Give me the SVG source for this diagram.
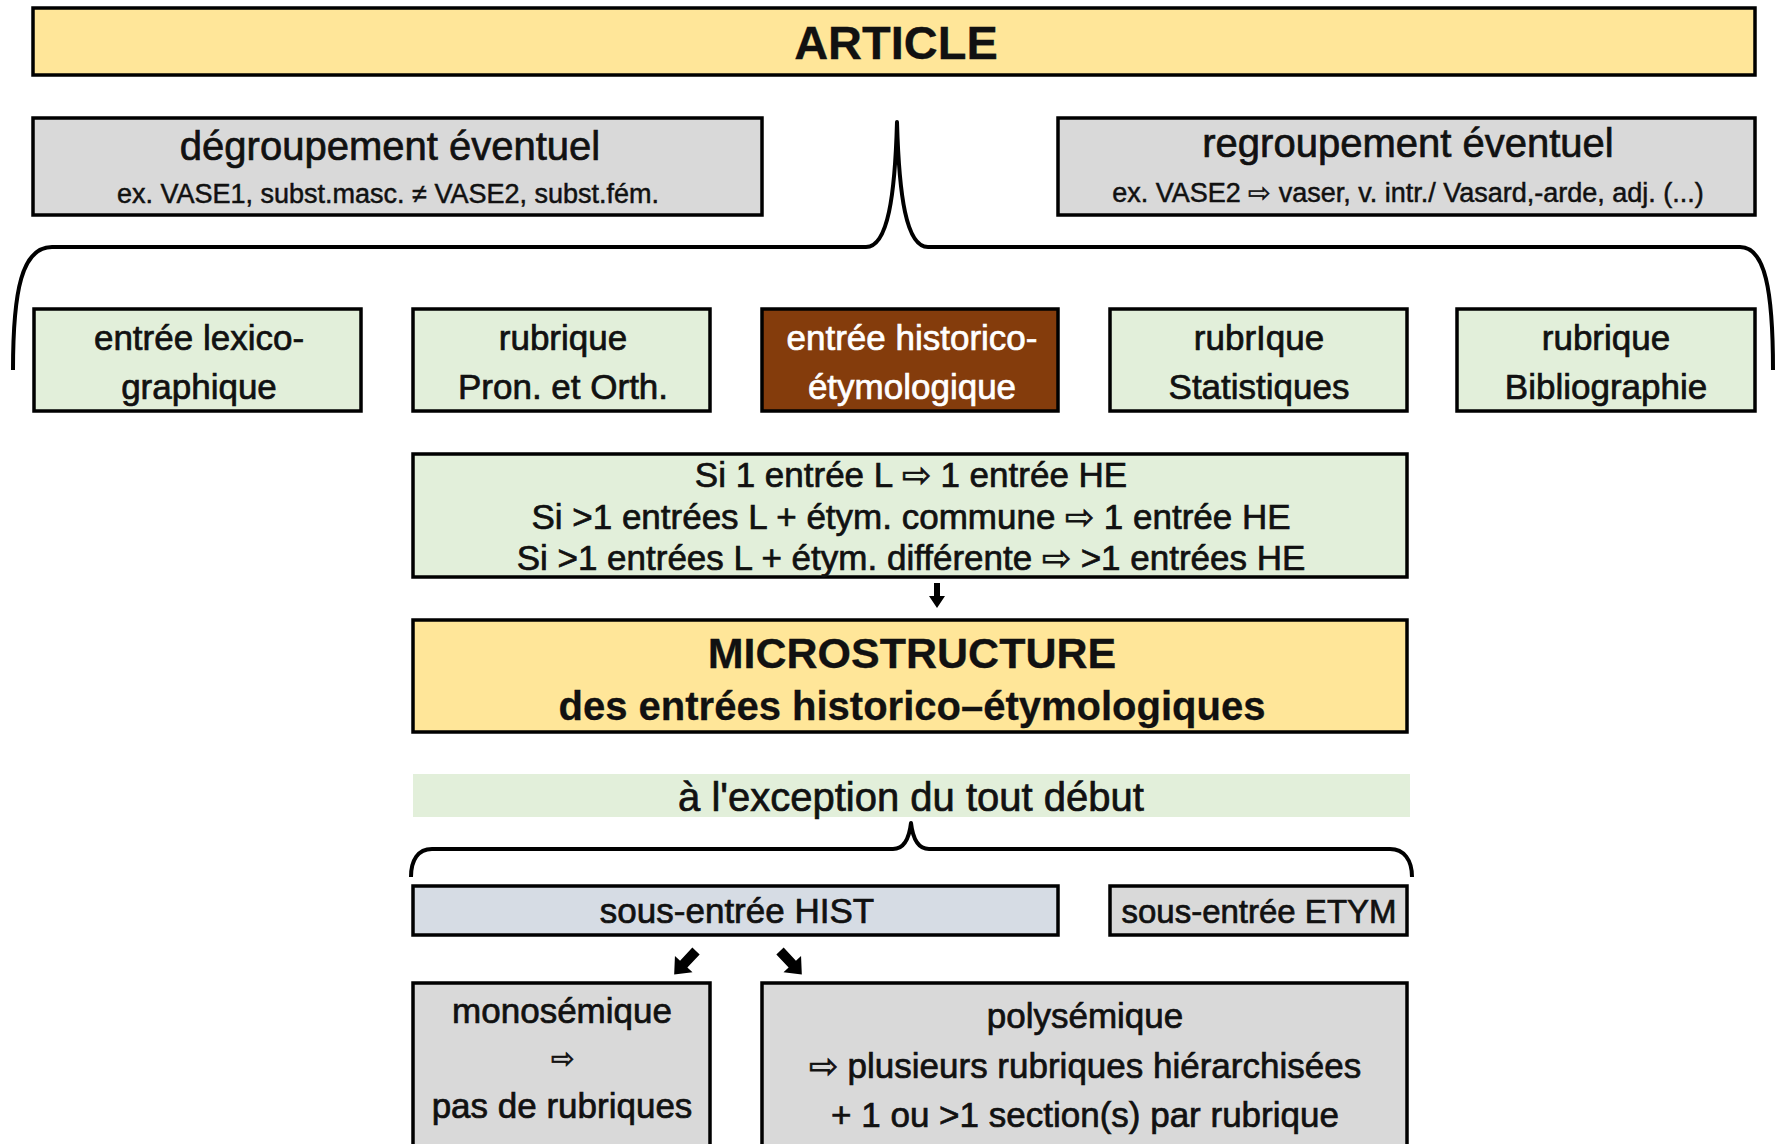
<svg xmlns="http://www.w3.org/2000/svg" width="1775" height="1144" viewBox="0 0 1775 1144">
<style>
.box{stroke:#000;stroke-width:3.5}
.yel{fill:#FFE699}.gry{fill:#D9D9D9}.grn{fill:#E2EFDA}.brn{fill:#843C0C}.blu{fill:#D6DCE4}
text{font-family:"Liberation Sans",Arial,sans-serif;text-anchor:middle;fill:#111;stroke:#111;stroke-width:0.7px}
.t35{font-size:35px}.t40{font-size:40px}.t27{font-size:27px;stroke-width:0.5px}
.b{font-weight:bold;stroke-width:0.3px}.w{fill:#fff;stroke:#fff}
.br{fill:none;stroke:#000;stroke-width:4;stroke-linejoin:round}
</style>
<defs>
<polygon id="arrD" points="0,-3,13,-3,13,-8,25,0,13,8,13,3,0,3" fill="#000"/>
<polygon id="arrG" points="0,-5,18,-5,18,-12,32,0,18,12,18,5,0,5" fill="#000"/>
</defs>
<rect width="1775" height="1144" fill="#fff"/>

<g id="article"><rect class="box yel" x="33" y="8" width="1722" height="67"/><text class="b" x="896" y="59" style="font-size:47px">ARTICLE</text></g>

<g id="degroupement"><rect class="box gry" x="33" y="118" width="729" height="97"/>
<text class="t40" x="390" y="160">dégroupement éventuel</text>
<text class="t27" x="388" y="203">ex. VASE1, subst.masc. ≠ VASE2, subst.fém.</text></g>

<g id="regroupement"><rect class="box gry" x="1058" y="118" width="697" height="97"/>
<text class="t40" x="1408" y="157">regroupement éventuel</text>
<text class="t27" x="1408" y="202">ex. VASE2 ⇨ vaser, v. intr./ Vasard,-arde, adj. (...)</text></g>

<g id="lexico"><rect class="box grn" x="34" y="309" width="327" height="102"/>
<text class="t35" x="199" y="350">entrée lexico-</text><text class="t35" x="199" y="399">graphique</text></g>

<g id="pron"><rect class="box grn" x="413" y="309" width="297" height="102"/>
<text class="t35" x="563" y="350">rubrique</text><text class="t35" x="563" y="399">Pron. et Orth.</text></g>

<g id="historico"><rect class="box brn" x="762" y="309" width="296" height="102"/>
<text class="t35 w" x="912" y="350">entrée historico-</text><text class="t35 w" x="912" y="399">étymologique</text></g>

<g id="stat"><rect class="box grn" x="1110" y="309" width="297" height="102"/>
<text class="t35" x="1259" y="350">rubrIque</text><text class="t35" x="1259" y="399">Statistiques</text></g>

<g id="biblio"><rect class="box grn" x="1457" y="309" width="298" height="102"/>
<text class="t35" x="1606" y="350">rubrique</text><text class="t35" x="1606" y="399">Bibliographie</text></g>

<g id="regles"><rect class="box grn" x="413" y="454" width="994" height="123"/>
<text class="t35" x="911" y="487">Si 1 entrée L ⇨ 1 entrée HE</text>
<text class="t35" x="911" y="529">Si &gt;1 entrées L + étym. commune ⇨ 1 entrée HE</text>
<text class="t35" x="911" y="570">Si &gt;1 entrées L + étym. différente ⇨ &gt;1 entrées HE</text></g>

<g id="microstructure"><rect class="box yel" x="413" y="620" width="994" height="112"/>
<text class="b" x="912" y="668" style="font-size:43px">MICROSTRUCTURE</text>
<text class="b t40" x="912" y="720">des entrées historico–étymologiques</text></g>

<g id="exception"><rect class="grn" x="413" y="774" width="997" height="43"/>
<text class="t40" x="911" y="811">à l'exception du tout début</text></g>

<g id="hist"><rect class="box blu" x="413" y="886" width="645" height="49"/>
<text class="t35" x="737" y="923">sous-entrée HIST</text></g>

<g id="etym"><rect class="box gry" x="1110" y="886" width="297" height="49"/>
<text class="t35" x="1259" y="923" style="font-size:33px">sous-entrée ETYM</text></g>

<g id="mono"><rect class="box gry" x="413" y="983" width="297" height="175"/>
<text class="t35" x="562" y="1023">monosémique</text>
<text class="t35" x="562" y="1068" style="font-size:28px">⇨</text>
<text class="t35" x="562" y="1118">pas de rubriques</text></g>

<g id="poly"><rect class="box gry" x="762" y="983" width="645" height="175"/>
<text class="t35" x="1085" y="1028">polysémique</text>
<text class="t35" x="1085" y="1078">⇨ plusieurs rubriques hiérarchisées</text>
<text class="t35" x="1085" y="1127">+ 1 ou &gt;1 section(s) par rubrique</text></g>

<g id="connectors">
<path class="br" d="M13,370 C13,290 22,247 52,247 L866,247 C888,247 895,195 897,122 C899,195 906,247 928,247 L1740,247 C1765,247 1773,290 1773,370"/>
<path class="br" d="M411,877 C411,860 418,849 432,849 L893,849 C903,849 909,840 911,823 C913,840 919,849 929,849 L1390,849 C1404,849 1412,860 1412,877"/>
<use href="#arrD" transform="translate(937,583) rotate(90)"/>
<use href="#arrG" transform="translate(696,951) rotate(133)"/>
<use href="#arrG" transform="translate(780,951) rotate(47)"/>
</g>
</svg>
